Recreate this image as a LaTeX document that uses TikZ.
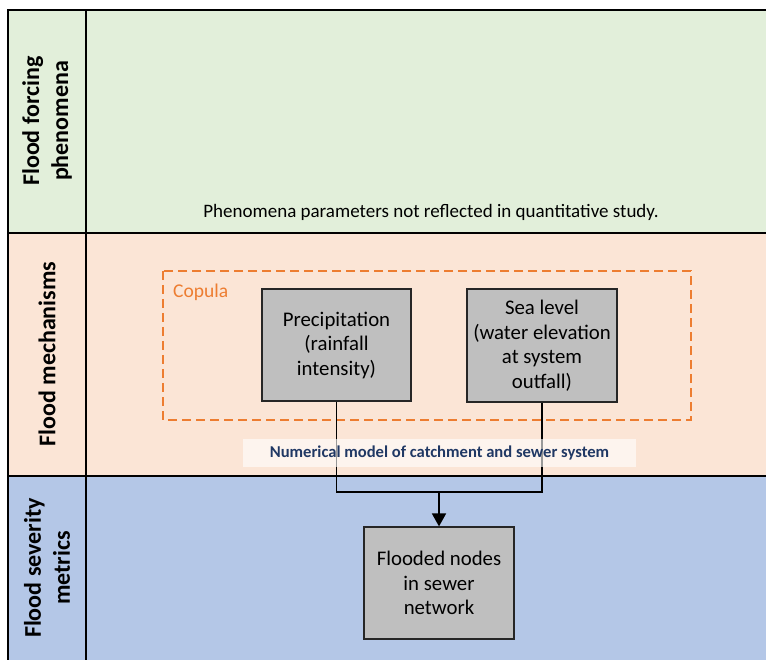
\documentclass[tikz,border=0pt]{standalone}
\usepackage{fontspec}
\setmainfont{Carlito}
\usetikzlibrary{arrows.meta}

\definecolor{forcingbg}{HTML}{E2EFDA}
\definecolor{mechbg}{HTML}{FBE5D6}
\definecolor{severitybg}{HTML}{B4C7E7}
\definecolor{boxgrey}{HTML}{BFBFBF}
\definecolor{copulaline}{HTML}{ED7D31}
\definecolor{navytext}{HTML}{203864}

\begin{document}
\begin{tikzpicture}[x=1pt,y=-1pt,
  gridline/.style={line width=1.6pt, black},
  rowtitle/.style={rotate=90, align=center, inner sep=0,
    font=\fontsize{24}{29}\selectfont\bfseries},
  varbox/.style={draw=black!85, line width=1.2pt, fill=boxgrey,
    minimum width=149pt, minimum height=112pt, inner sep=0, align=center,
    font=\fontsize{20.8}{24.5}\selectfont},
  copulabox/.style={draw=copulaline, line width=1.4pt, dash pattern=on 9pt off 5pt},
  link/.style={line width=1.8pt, black},
  modellabel/.style={fill=white, fill opacity=0.6, text opacity=1,
    text=navytext, minimum width=393pt, minimum height=28pt, inner sep=0,
    font=\fontsize{16.6}{18}\selectfont\bfseries},
  plain/.style={inner sep=0, font=\fontsize{19}{22}\selectfont}
]
\useasboundingbox (0,0) rectangle (766,660);

% horizontal bands
\fill[forcingbg]  (8,10)  rectangle (766,233);
\fill[mechbg]     (8,233) rectangle (766,476);
\fill[severitybg] (8,476) rectangle (766,660);

% table rules
\draw[gridline] (8,660) -- (8,10) -- (766,10);
\draw[gridline] (8,233) -- (766,233);
\draw[gridline] (8,476) -- (766,476);
\draw[gridline] (86,10) -- (86,660);

% row titles
\node[rowtitle] (t1) at (47,121) {Flood forcing\\phenomena};
\node[rowtitle] (t2) at (47,354) {Flood mechanisms};
\node[rowtitle] (t3) at (47,568) {Flood severity\\metrics};

% forcing row note
\node[plain] (note) at (431,212) {Phenomena parameters not reflected in quantitative study.};

% copula frame
\draw[copulabox] (163,271) rectangle (691,420);
\node[anchor=base west, inner sep=0, text=copulaline,
  font=\fontsize{19.5}{22}\selectfont] (cop) at (173,298) {Copula};

% variables
\node[varbox] (precip) at (336.5,345) {Precipitation\\(rainfall\\intensity)};
\node[varbox, minimum width=150pt, minimum height=113pt] (sea) at (542,345.5)
  {Sea level\\(water elevation\\at system\\outfall)};
\node[varbox, minimum width=150pt] (flooded) at (439,583)
  {Flooded nodes\\in sewer\\network};

% connectors
\coordinate (join) at (439,492);
\draw[link] (precip.south) |- (join);
\draw[link] (sea.south) |- (join);
\draw[link, -{Triangle[width=14pt,length=13pt]}] (join) -- (flooded.north);

% model label over the connectors
\node[modellabel] (model) at (439.5,453) {Numerical model of catchment and sewer system};
\end{tikzpicture}
\end{document}
